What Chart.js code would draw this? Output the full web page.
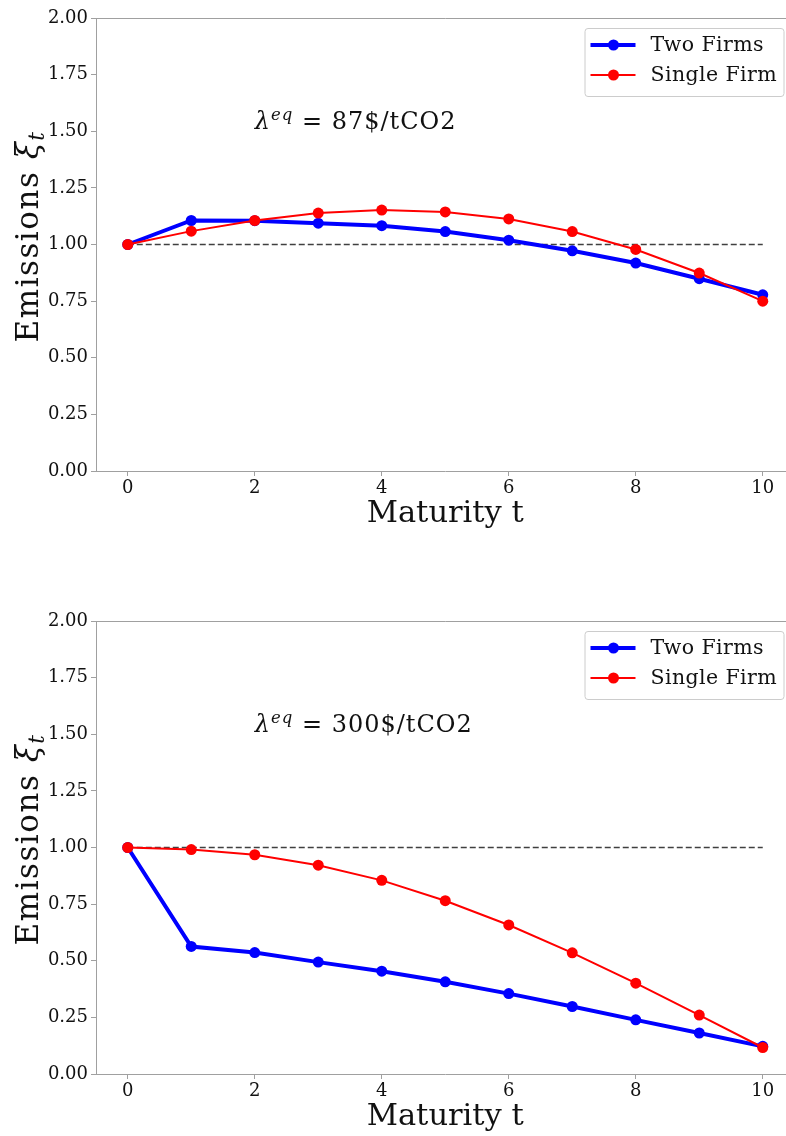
<!DOCTYPE html>
<html>
<head>
<meta charset="utf-8">
<script src="https://cdn.jsdelivr.net/npm/chart.js@4.4.0/dist/chart.umd.min.js"></script>
<style>
  html, body { margin: 0; padding: 0; background: #fff; overflow: hidden; }
  .panel { position: absolute; left: 0; width: 800px; height: 533px; }
</style>
</head>
<body>
<div class="panel" style="top:0"><canvas id="plot-87" width="800" height="533"></canvas></div>
<div class="panel" style="top:603px"><canvas id="plot-300" width="800" height="533"></canvas></div>
<script>
// maturities t = 0..10 and the emission paths
const maturity = [0, 1, 2, 3, 4, 5, 6, 7, 8, 9, 10];
const twoFirms87 = [1.0, 1.106, 1.105, 1.094, 1.083, 1.057, 1.019, 0.972, 0.918, 0.849, 0.778];
const singleFirm87 = [1.0, 1.059, 1.106, 1.139, 1.152, 1.144, 1.113, 1.057, 0.978, 0.874, 0.75];
const twoFirms300 = [1.0, 0.563, 0.536, 0.494, 0.454, 0.407, 0.355, 0.298, 0.239, 0.181, 0.122];
const singleFirm300 = [1.0, 0.991, 0.968, 0.922, 0.855, 0.765, 0.658, 0.535, 0.401, 0.26, 0.117];
const baselineT = [0, 10];
const baselineLevel = [1, 1];
const xTicks = [0, 2, 4, 6, 8, 10];
const seriesLabels = ["Two Firms", "Single Firm"];
const prices = ["87$/tCO2", "300$/tCO2"];
const priceTextAt = [2, 1.5];

const SERIF = '"DejaVu Serif", "Liberation Serif", serif';
const spineColor = "#a0a0a0";
const textColor = "#111";

function toPoints(xs, ys) {
  return xs.map((x, i) => ({ x: x, y: ys[i] }));
}

function setFont(ctx, p) {
  ctx.font = (p.italic ? "italic " : "") + p.size + "px " + SERIF;
}

function richWidth(ctx, parts) {
  let w = 0;
  parts.forEach((p) => {
    setFont(ctx, p);
    w += ctx.measureText(p.text).width;
  });
  return w;
}

function drawRich(ctx, parts, x, y) {
  let cx = x;
  parts.forEach((p) => {
    setFont(ctx, p);
    ctx.fillText(p.text, cx, y + (p.dy || 0));
    cx += ctx.measureText(p.text).width;
  });
}

const decorPlugin = {
  id: "decor",
  afterDraw: (chart, args, opts) => {
    const ctx = chart.ctx;
    const area = chart.chartArea;
    const xs = chart.scales.x;
    const ys = chart.scales.y;
    ctx.save();

    // top spine
    ctx.strokeStyle = spineColor;
    ctx.lineWidth = 1;
    ctx.beginPath();
    ctx.moveTo(area.left, Math.round(area.top) + 0.5);
    ctx.lineTo(area.right, Math.round(area.top) + 0.5);
    ctx.stroke();

    ctx.fillStyle = textColor;
    ctx.textAlign = "left";
    ctx.textBaseline = "alphabetic";

    // price label
    ctx.letterSpacing = "1px";
    drawRich(
      ctx,
      [
        { text: "\u03bb", size: 24, italic: true },
        { text: "eq", size: 16.5, italic: true, dy: -9 },
        { text: " = ", size: 24 },
        { text: opts.price, size: 24 },
      ],
      xs.getPixelForValue(priceTextAt[0]),
      ys.getPixelForValue(priceTextAt[1]) - 2
    );

    // y axis label with subscript
    const yLabel = [
      { text: "Emissions ", size: 31 },
      { text: "\u03be", size: 31, italic: true },
      { text: "t", size: 21.5, italic: true, dy: 6 },
    ];
    ctx.letterSpacing = "1.5px";
    ctx.save();
    ctx.translate(38, (area.top + area.bottom) / 2 - 8);
    ctx.rotate(-Math.PI / 2);
    drawRich(ctx, yLabel, -richWidth(ctx, yLabel) / 2, 0);
    ctx.restore();

    // legend, matplotlib style
    ctx.letterSpacing = "0.4px";
    const lx = area.right - 210;
    const ly = area.top + 10;
    const lw = 199;
    const lh = 68;
    ctx.fillStyle = "rgba(255,255,255,0.8)";
    ctx.strokeStyle = "#cccccc";
    ctx.lineWidth = 1;
    ctx.beginPath();
    ctx.roundRect(lx + 0.5, ly + 0.5, lw, lh, 3);
    ctx.fill();
    ctx.stroke();
    chart.data.datasets
      .filter((ds) => ds.label)
      .forEach((ds, i) => {
        const rowY = ly + 17 + i * 30;
        ctx.strokeStyle = ds.borderColor;
        ctx.lineWidth = ds.borderWidth;
        ctx.beginPath();
        ctx.moveTo(lx + 6, rowY);
        ctx.lineTo(lx + 51, rowY);
        ctx.stroke();
        ctx.fillStyle = ds.pointBackgroundColor;
        ctx.beginPath();
        ctx.arc(lx + 29, rowY, ds.pointRadius, 0, Math.PI * 2);
        ctx.fill();
        ctx.fillStyle = textColor;
        ctx.font = "20.5px " + SERIF;
        ctx.textBaseline = "middle";
        ctx.fillText(ds.label, lx + 66, rowY + 1);
      });

    ctx.letterSpacing = "0px";
    ctx.restore();
  },
};

function makeChart(canvasId, twoFirms, singleFirm, price) {
  const ctx = document.getElementById(canvasId).getContext("2d");
  return new Chart(ctx, {
    type: "line",
    plugins: [decorPlugin],
    data: {
      datasets: [
        {
          label: seriesLabels[0],
          data: toPoints(maturity, twoFirms),
          borderColor: "#0000ff",
          pointBackgroundColor: "#0000ff",
          borderWidth: 4,
          pointRadius: 5.5,
          pointBorderWidth: 0,
          order: 2,
        },
        {
          label: seriesLabels[1],
          data: toPoints(maturity, singleFirm),
          borderColor: "#ff0000",
          pointBackgroundColor: "#ff0000",
          borderWidth: 2,
          pointRadius: 5.5,
          pointBorderWidth: 0,
          order: 1,
        },
        {
          data: toPoints(baselineT, baselineLevel),
          borderColor: "#404040",
          borderWidth: 1.5,
          borderDash: [6, 3],
          pointRadius: 0,
          order: 3,
        },
      ],
    },
    options: {
      responsive: false,
      animation: false,
      devicePixelRatio: 1,
      layout: { padding: { top: 18, right: 4, left: 0, bottom: 0 } },
      plugins: {
        legend: { display: false },
        tooltip: { enabled: false },
        decor: { price: price },
      },
      scales: {
        x: {
          type: "linear",
          min: -0.5,
          max: 10.5,
          afterBuildTicks: (scale) => {
            scale.ticks = xTicks.map((v) => ({ value: v }));
          },
          afterFit: (scale) => {
            scale.height = 62;
          },
          grid: { drawOnChartArea: false, tickLength: 5, tickColor: spineColor },
          border: { color: spineColor },
          ticks: {
            color: textColor,
            padding: 2,
            maxRotation: 0,
            font: { family: SERIF, size: 18 },
          },
          title: {
            display: true,
            text: "Maturity t",
            color: textColor,
            padding: { top: 0, bottom: 1 },
            font: { family: SERIF, size: 30.5 },
          },
        },
        y: {
          min: 0,
          max: 2,
          afterFit: (scale) => {
            scale.width = 96;
          },
          grid: { drawOnChartArea: false, tickLength: 5, tickColor: spineColor },
          border: { color: spineColor },
          ticks: {
            stepSize: 0.25,
            color: textColor,
            padding: 3,
            font: { family: SERIF, size: 18 },
            callback: (v) => v.toFixed(2),
          },
        },
      },
    },
  });
}

makeChart("plot-87", twoFirms87, singleFirm87, prices[0]);
makeChart("plot-300", twoFirms300, singleFirm300, prices[1]);
</script>
</body>
</html>
